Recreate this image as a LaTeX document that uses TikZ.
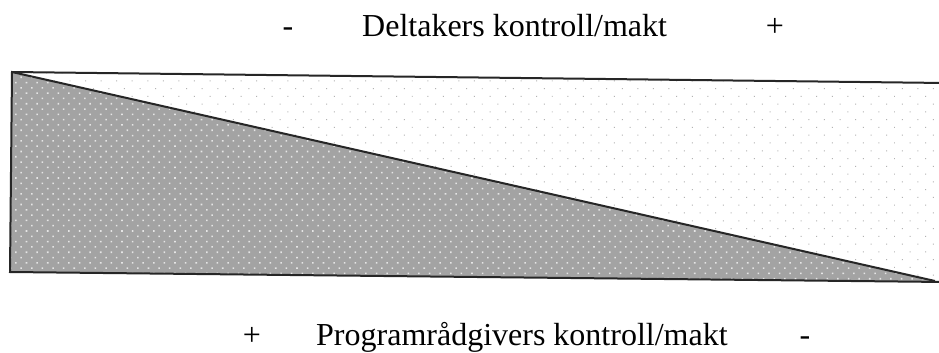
\documentclass[tikz,border=0pt]{standalone}
\usepackage{fontspec}
\setmainfont{Liberation Serif}
\usetikzlibrary{patterns.meta}

\tikzset{
	label text/.style={font=\fontsize{32}{38}\selectfont, inner sep=0pt, anchor=base west},
	sign text/.style={font=\fontsize{32}{38}\selectfont, inner sep=0pt, anchor=base},
	frame line/.style={line width=2pt, color=black!85},
	dark part/.style={fill=black!36},
	dark dots/.style={pattern={Dots[radius=1.1pt, distance=7.5pt, angle=45]}, pattern color=white!90!black},
	light dots/.style={pattern={Dots[radius=0.7pt, distance=11pt, angle=45]}, pattern color=black!30},
}

\begin{document}
\begin{tikzpicture}[x=1pt, y=-1pt]
	\useasboundingbox (0,0) rectangle (939,353);

	% corners of the box
	\coordinate (tl) at (12,72);
	\coordinate (tr) at (945,83);
	\coordinate (bl) at (10,272);
	\coordinate (br) at (945,282);
	\coordinate (tip) at (935,281);

	% upper (light) part
	\fill[white] (tl) -- (tr) -- (br) -- (tip) -- cycle;
	\fill[light dots] (tl) -- (tr) -- (br) -- (tip) -- cycle;

	% lower (dark) part
	\fill[dark part] (tl) -- (tip) -- (br) -- (bl) -- cycle;
	\fill[dark dots] (tl) -- (tip) -- (br) -- (bl) -- cycle;

	% frame and diagonal
	\draw[frame line] (tr) -- (tl) -- (bl) -- (br);
	\draw[frame line] (tl) -- (tip);

	% labels
	\node[sign text] (topminus) at (288,37) {-};
	\node[label text] (toptext) at (362,37) {Deltakers kontroll/makt};
	\node[sign text] (topplus) at (775,37) {+};
	\node[sign text] (botplus) at (252,345) {+};
	\node[label text] (bottext) at (316,345) {Programrådgivers kontroll/makt};
	\node[sign text] (botminus) at (805,345) {-};
\end{tikzpicture}
\end{document}
